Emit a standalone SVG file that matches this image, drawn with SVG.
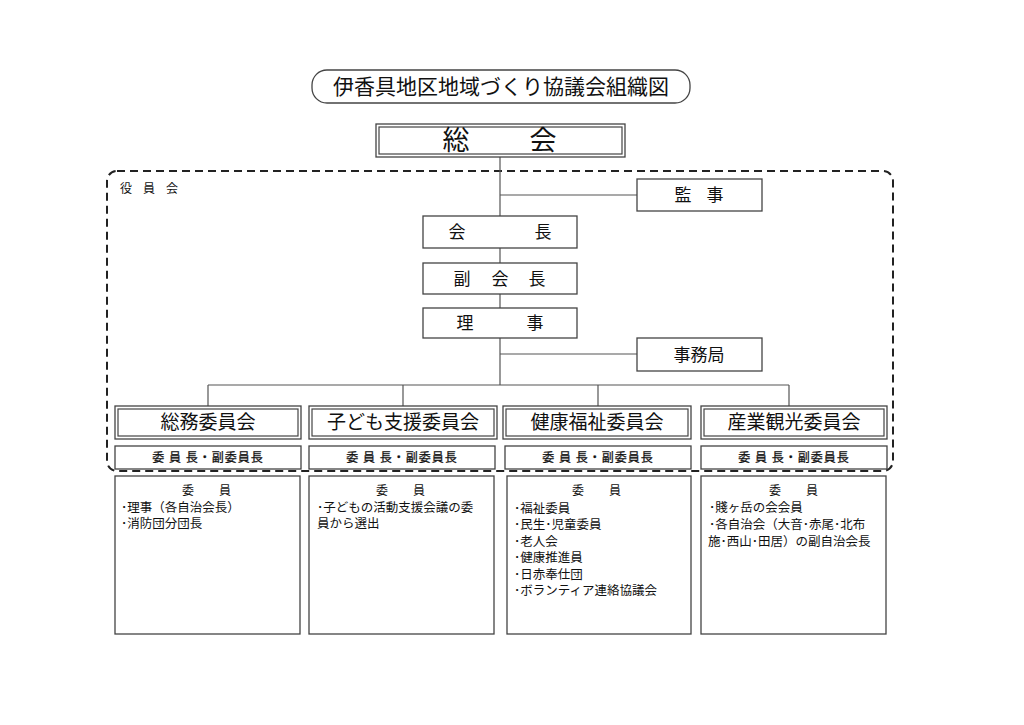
<svg xmlns="http://www.w3.org/2000/svg" width="1024" height="725" viewBox="0 0 1024 725">
<style>
text{font-family:"Noto Sans CJK JP","Noto Sans CJK SC",sans-serif;fill:#111}
.box{fill:#fff;stroke:#444;stroke-width:1.3}
.dbl{fill:none;stroke:#444;stroke-width:1.2}
.ln{fill:none;stroke:#555;stroke-width:1.2}
.t17{font-size:17px;text-anchor:middle}
.t19{font-size:19px;text-anchor:middle}
.t12{font-size:12px;text-anchor:middle;letter-spacing:1px;stroke:#111;stroke-width:0.25}
.m{font-size:12.5px}
.mh{font-size:12px;text-anchor:middle}
</style>
<rect width="1024" height="725" fill="#fff"/>
<g id="title">
<rect x="312" y="70" width="378" height="33" rx="15" class="box"/>
<text x="501" y="94" font-size="21" text-anchor="middle">伊香具地区地域づくり協議会組織図</text>
</g>
<g id="yakuinkai">
<rect x="107" y="171" width="786" height="300" rx="10" fill="none" stroke="#222" stroke-width="2" stroke-dasharray="8,5"/>
<text x="120" y="193" font-size="12">役</text><text x="143" y="193" font-size="12">員</text><text x="166" y="193" font-size="12">会</text>
</g>
<g id="connectors">
<path class="ln" d="M500 157V385M500 195H637M500 354H637M208 385H789M208 385V406M403 385V406M598 385V406M789 385V406"/>
</g>
<g id="soukai">
<rect x="376" y="124" width="249" height="33" class="box" stroke-width="2.5"/>
<rect x="379" y="127" width="243" height="27" class="dbl" stroke-width="0.8"/>
<text x="456" y="150" font-size="27" text-anchor="middle">総</text>
<text x="543" y="150" font-size="27" text-anchor="middle">会</text>
</g>
<g id="kanji">
<rect x="637" y="179" width="125" height="32" class="box"/>
<text x="683" y="201" class="t17">監</text><text x="715" y="201" class="t17">事</text>
</g>
<g id="kaichou">
<rect x="423" y="216" width="154" height="32" class="box"/>
<text x="457" y="238" class="t17">会</text><text x="543" y="238" class="t17">長</text>
</g>
<g id="fukukaichou">
<rect x="423" y="263" width="154" height="31" class="box"/>
<text x="462" y="285" class="t17">副</text><text x="500" y="285" class="t17">会</text><text x="537" y="285" class="t17">長</text>
</g>
<g id="riji">
<rect x="423" y="308" width="154" height="30" class="box"/>
<text x="465" y="329" class="t17">理</text><text x="535" y="329" class="t17">事</text>
</g>
<g id="jimukyoku">
<rect x="637" y="338" width="125" height="33" class="box"/>
<text x="699" y="361" class="t17">事務局</text>
</g>
<g id="soumu">
<rect x="115" y="406" width="186" height="33" class="box" stroke-width="2"/>
<rect x="118" y="409" width="180" height="27" class="dbl" stroke-width="0.8"/>
<text x="208" y="429" class="t19">総務委員会</text>
<rect x="115" y="446" width="186" height="23" class="box" stroke-width="1"/>
<text x="208" y="462" class="t12">委 員 長・副委員長</text>
<rect x="115" y="476" width="185" height="158" class="box"/>
<text x="188" y="495" class="mh">委</text><text x="225" y="495" class="mh">員</text>
<text x="121" y="512" class="m">･理事（各自治会長）</text>
<text x="121" y="528" class="m">･消防団分団長</text>
</g>
<g id="kodomo">
<rect x="309" y="406" width="188" height="33" class="box" stroke-width="2"/>
<rect x="312" y="409" width="182" height="27" class="dbl" stroke-width="0.8"/>
<text x="403" y="429" class="t19">子ども支援委員会</text>
<rect x="309" y="446" width="186" height="23" class="box" stroke-width="1"/>
<text x="402" y="462" class="t12">委 員 長・副委員長</text>
<rect x="309" y="476" width="185" height="158" class="box"/>
<text x="382" y="495" class="mh">委</text><text x="419" y="495" class="mh">員</text>
<text x="317" y="512" class="m">･子どもの活動支援会議の委</text>
<text x="317" y="528" class="m">員から選出</text>
</g>
<g id="kenkou">
<rect x="503" y="406" width="188" height="33" class="box" stroke-width="2"/>
<rect x="506" y="409" width="182" height="27" class="dbl" stroke-width="0.8"/>
<text x="597" y="429" class="t19">健康福祉委員会</text>
<rect x="505" y="446" width="186" height="23" class="box" stroke-width="1"/>
<text x="598" y="462" class="t12">委 員 長・副委員長</text>
<rect x="507" y="476" width="184" height="158" class="box"/>
<text x="578" y="495" class="mh">委</text><text x="615" y="495" class="mh">員</text>
<text x="514" y="513" class="m">･福祉委員</text>
<text x="514" y="529" class="m">･民生･児童委員</text>
<text x="514" y="546" class="m">･老人会</text>
<text x="514" y="562" class="m">･健康推進員</text>
<text x="514" y="579" class="m">･日赤奉仕団</text>
<text x="514" y="595" class="m">･ボランティア連絡協議会</text>
</g>
<g id="sangyou">
<rect x="701" y="406" width="186" height="33" class="box" stroke-width="1.5"/>
<rect x="704" y="409" width="180" height="27" class="dbl" stroke-width="1"/>
<text x="794" y="429" class="t19">産業観光委員会</text>
<rect x="701" y="446" width="186" height="23" class="box" stroke-width="1"/>
<text x="794" y="462" class="t12">委 員 長・副委員長</text>
<rect x="701" y="476" width="185" height="158" class="box"/>
<text x="775" y="495" class="mh">委</text><text x="812" y="495" class="mh">員</text>
<text x="709" y="512" class="m">･賤ヶ岳の会会員</text>
<text x="709" y="529" class="m">･各自治会（大音･赤尾･北布</text>
<text x="708" y="546" class="m">施･西山･田居）の副自治会長</text>
</g>
</svg>
